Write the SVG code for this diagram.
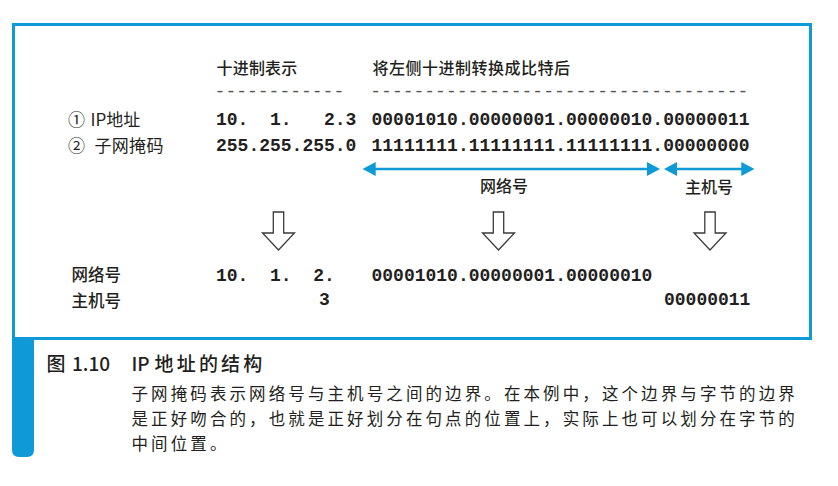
<svg xmlns="http://www.w3.org/2000/svg" width="838" height="486" viewBox="0 0 838 486">
<defs>
<style>
.cjk{font-family:"Noto Sans CJK SC","Noto Sans",sans-serif;fill:#231f20;font-weight:500}
.reg{font-weight:400}
.mono{font-family:"Liberation Mono","DejaVu Sans Mono",monospace;font-size:18px;font-weight:bold;fill:#231f20;white-space:pre}
.dash{font-family:"Liberation Mono","DejaVu Sans Mono",monospace;font-size:18px;fill:#555;white-space:pre}
.blue{stroke:#0d9ad6;stroke-width:2.6;fill:none}
.down{fill:#fff;stroke:#3a3a3a;stroke-width:1.3;stroke-linejoin:miter}
</style>
<marker id="ah" viewBox="0 0 13 14" refX="3" refY="7" markerWidth="13" markerHeight="14" markerUnits="userSpaceOnUse" orient="auto-start-reverse"><path d="M0,0 L13,7 L0,14 Z" fill="#0d9ad6"/></marker>
</defs>
<rect width="838" height="486" fill="#fff"/>
<g id="frame">
<rect x="13.5" y="24.5" width="797" height="314" fill="none" stroke="#0d9ad6" stroke-width="3"/>
<path d="M12,338 H34 V450 Q34,457 27,457 H19 Q12,457 12,450 Z" fill="#0d9ad6"/>
</g>
<g id="headers">
<text class="cjk" x="216.5" y="74" font-size="16" letter-spacing="0.2">十进制表示</text>
<text class="cjk" x="372.5" y="74" font-size="16" letter-spacing="0.5">将左侧十进制转换成比特后</text>
<text class="dash" x="214.6" y="97" xml:space="preserve">------------</text>
<text class="dash" x="370.3" y="97" xml:space="preserve">-----------------------------------</text>
</g>
<g id="row-ip">
<text class="cjk reg" x="68" y="126" font-size="17">① <tspan x="90.5">IP地址</tspan></text>
<text class="mono" x="216" y="125" xml:space="preserve">10.  1.   2.3</text>
<text class="mono" x="371.5" y="125">00001010.00000001.00000010.00000011</text>
</g>
<g id="row-mask">
<text class="cjk reg" x="68" y="152" font-size="17" letter-spacing="0.3">② <tspan x="94.5">子网掩码</tspan></text>
<text class="mono" x="216" y="151">255.255.255.0</text>
<text class="mono" x="371.5" y="151">11111111.11111111.11111111.00000000</text>
</g>
<g id="connectors">
<line class="blue" x1="372.7" y1="169" x2="650" y2="169" marker-start="url(#ah)" marker-end="url(#ah)"/>
<line class="blue" x1="674" y1="169" x2="744.3" y2="169" marker-start="url(#ah)" marker-end="url(#ah)"/>
<polygon class="down" points="273.3,212 283.7,212 283.7,233 294.5,233 278.5,250 262.5,233 273.3,233"/>
<polygon class="down" points="493.3,212 503.7,212 503.7,233 514.5,233 498.5,250 482.5,233 493.3,233"/>
<polygon class="down" points="704.8,212 715.2,212 715.2,233 726,233 710,250 694,233 704.8,233"/>
</g>
<g id="range-labels">
<text class="cjk" x="504" y="192" font-size="16" text-anchor="middle">网络号</text>
<text class="cjk" x="709" y="193" font-size="16" text-anchor="middle">主机号</text>
</g>
<g id="result-network">
<text class="cjk" x="71.5" y="280.5" font-size="16.5">网络号</text>
<text class="mono" x="216" y="281" xml:space="preserve">10.  1.  2.</text>
<text class="mono" x="371.5" y="281">00001010.00000001.00000010</text>
</g>
<g id="result-host">
<text class="cjk" x="71.5" y="306.5" font-size="16.5">主机号</text>
<text class="mono" x="319" y="304.5">3</text>
<text class="mono" x="664" y="304.5">00000011</text>
</g>
<g id="caption">
<text class="cjk" x="46.5" y="371" font-size="19">图 <tspan x="72">1.10</tspan></text>
<text class="cjk" x="131.5" y="371" font-size="19">IP <tspan x="154.5" letter-spacing="3.2">地址的结构</tspan></text>
<text class="cjk reg" x="131.5" y="400" font-size="16.5" letter-spacing="3.1">子网掩码表示网络号与主机号之间的边界。在本例中，这个边界与字节的边界</text>
<text class="cjk reg" x="131.5" y="425" font-size="16.5" letter-spacing="3.1">是正好吻合的，也就是正好划分在句点的位置上，实际上也可以划分在字节的</text>
<text class="cjk reg" x="131.5" y="450" font-size="16.5" letter-spacing="3.1">中间位置。</text>
</g>
</svg>
